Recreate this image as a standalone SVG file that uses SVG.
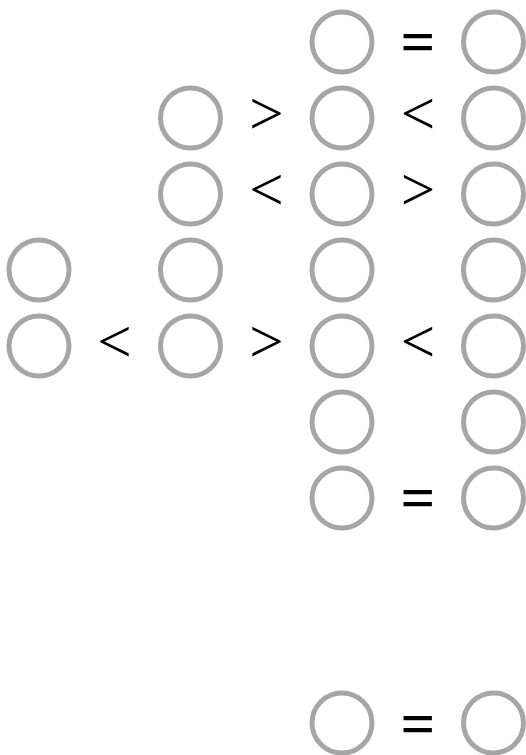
<svg xmlns="http://www.w3.org/2000/svg" width="526" height="755" viewBox="0 0 526 755">
<style>
.c{fill:none;stroke:#a6a6a6;stroke-width:5}
.op{font-family:"Liberation Serif","Times New Roman",serif;font-size:61px;fill:#000;text-anchor:middle}
.eq{font-weight:bold}
</style>
<rect width="526" height="755" fill="#fff"/>
<g id="r0c2"><circle class="c" cx="342" cy="42" r="30"/></g>
<g id="r0c3"><circle class="c" cx="493.5" cy="42" r="30"/></g>
<g id="r1c1"><circle class="c" cx="190.5" cy="118" r="30"/></g>
<g id="r1c2"><circle class="c" cx="342" cy="118" r="30"/></g>
<g id="r1c3"><circle class="c" cx="493.5" cy="118" r="30"/></g>
<g id="r2c1"><circle class="c" cx="190.5" cy="194" r="30"/></g>
<g id="r2c2"><circle class="c" cx="342" cy="194" r="30"/></g>
<g id="r2c3"><circle class="c" cx="493.5" cy="194" r="30"/></g>
<g id="r3c0"><circle class="c" cx="39" cy="270" r="30"/></g>
<g id="r3c1"><circle class="c" cx="190.5" cy="270" r="30"/></g>
<g id="r3c2"><circle class="c" cx="342" cy="270" r="30"/></g>
<g id="r3c3"><circle class="c" cx="493.5" cy="270" r="30"/></g>
<g id="r4c0"><circle class="c" cx="39" cy="346" r="30"/></g>
<g id="r4c1"><circle class="c" cx="190.5" cy="346" r="30"/></g>
<g id="r4c2"><circle class="c" cx="342" cy="346" r="30"/></g>
<g id="r4c3"><circle class="c" cx="493.5" cy="346" r="30"/></g>
<g id="r5c2"><circle class="c" cx="342" cy="422" r="30"/></g>
<g id="r5c3"><circle class="c" cx="493.5" cy="422" r="30"/></g>
<g id="r6c2"><circle class="c" cx="342" cy="498" r="30"/></g>
<g id="r6c3"><circle class="c" cx="493.5" cy="498" r="30"/></g>
<g id="r7c2"><circle class="c" cx="342" cy="723" r="30"/></g>
<g id="r7c3"><circle class="c" cx="493.5" cy="723" r="30"/></g>
<g id="relations">
<text class="op eq" x="418" y="62">=</text>
<text class="op" x="266.5" y="133.5">&gt;</text>
<text class="op" x="418" y="133.5">&lt;</text>
<text class="op" x="266.5" y="209.5">&lt;</text>
<text class="op" x="418" y="209.5">&gt;</text>
<text class="op" x="114.5" y="361.5">&lt;</text>
<text class="op" x="266.5" y="361.5">&gt;</text>
<text class="op" x="418" y="361.5">&lt;</text>
<text class="op eq" x="418" y="518">=</text>
<text class="op eq" x="418" y="744">=</text>
</g>
</svg>
